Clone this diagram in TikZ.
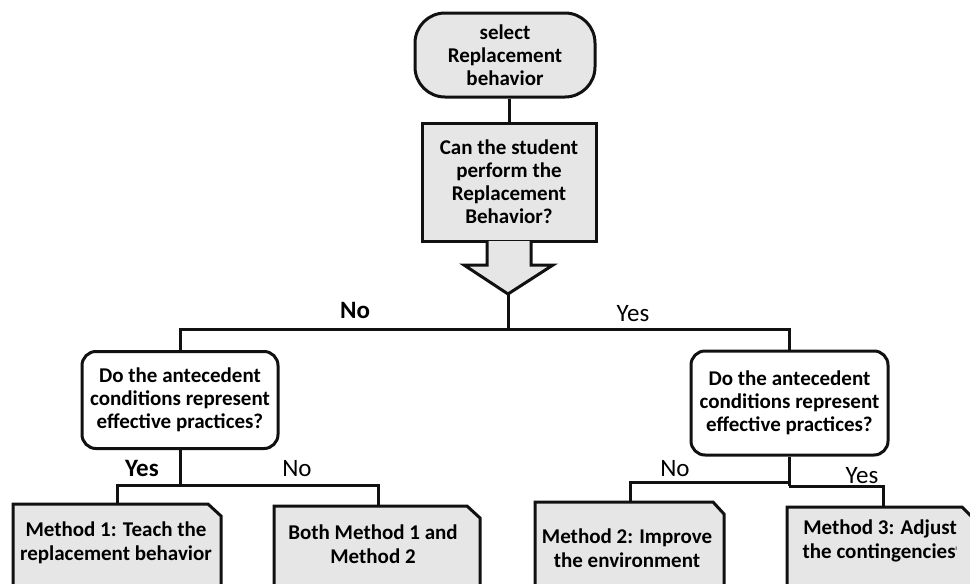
\documentclass[tikz,border=0pt]{standalone}
\usepackage{fontspec}
\setmainfont{Carlito}
\definecolor{boxgray}{HTML}{E6E6E6}
\definecolor{ink}{HTML}{111111}
\tikzset{
  base/.style={draw=ink, line width=3pt, align=center, inner sep=0pt,
    font=\fontsize{21}{23}\selectfont\bfseries},
  termbox/.style={base, fill=boxgray, rounded corners=30pt},
  qbox/.style={base, fill=boxgray},
  decbox/.style={base, fill=white, rounded corners=14pt},
  mtext/.style={align=center, inner sep=0pt, font=\fontsize{21}{23.5}\selectfont\bfseries},
  conn/.style={draw=ink, line width=3pt},
  snipbox/.style={draw=ink, line width=3pt, fill=boxgray, line join=miter},
  lblb/.style={font=\fontsize{25}{26}\selectfont\bfseries, inner sep=0pt, anchor=base},
  lblr/.style={font=\fontsize{25}{26}\selectfont, inner sep=0pt, anchor=base}
}
\begin{document}
\begin{tikzpicture}[x=1pt,y=-1pt]
\useasboundingbox[fill=white] (0,0) rectangle (970,584);

% top
\node[termbox, minimum width=180, minimum height=84] (start) at (505,55) {select\\Replacement\\behavior};
\node[qbox, minimum width=174, minimum height=118] (q) at (509,182) {Can the student\\perform the\\Replacement\\Behavior?};
\draw[conn] (start.south -| q.north) -- (q.north);

% big arrow
\draw[draw=ink, line width=3pt, fill=boxgray, line join=miter]
  (487,241) -- (487,265) -- (464,265) -- (508,294) -- (553,265) -- (531,265) -- (531,241);
\coordinate (tip) at (508,294);
\coordinate (split) at (508,329);

% decision nodes
\node[decbox, minimum width=196, minimum height=97] (dl) at (180,400) {Do the antecedent\\conditions represent\\effective practices?};
\node[decbox, minimum width=197, minimum height=104] (dr) at (789.5,403) {Do the antecedent\\conditions represent\\effective practices?};

\draw[conn] (tip) -- (split);
\draw[conn] (dl.north) -- (dl.north |- split) -- (dr.north |- split) -- (dr.north);

\node[lblb] (lno) at (355,318) {No};
\node[lblr] (lyes) at (633,321) {Yes};

% method boxes
\draw[snipbox] (13,600) -- (13,504) -- (208,504) -- (221,516) -- (221,600);
\draw[snipbox] (274,600) -- (274,506) -- (467,506) -- (480,518) -- (480,600);
\draw[snipbox] (535,600) -- (535,502) -- (713,502) -- (724,514) -- (724,600);
\draw[snipbox] (787,600) -- (787,507) -- (962,507) -- (975,520) -- (975,600);

\coordinate (m1top) at (117,504);
\coordinate (m2top) at (378,506);
\coordinate (m3top) at (630,502);
\coordinate (m4top) at (883,507);

\node[mtext] (m1) at (116,543) {Method 1: Teach the\\replacement behavior};
\node[mtext] (m2) at (373,544) {Both Method 1 and\\Method 2};
\node[mtext] (m3) at (627,548) {Method 2: Improve\\the environment};
\node[mtext] (m4) at (880,541) {Method 3: Adjust\\the contingencies\textsuperscript{\tiny l}};

% left sub-tree
\coordinate (lsplit) at (178,485);
\draw[conn] (dl.south) -- (dl.south |- lsplit);
\draw[conn] (m1top) -- (m1top |- lsplit) -- (m2top |- lsplit) -- (m2top);
\node[lblb] (lyes2) at (142,476) {Yes};
\node[lblr] (lno2) at (297,476) {No};

% right sub-tree
\coordinate (rsplitA) at (789,482);
\coordinate (rsplitB) at (789,486);
\draw[conn] (dr.south) -- (dr.south |- rsplitB);
\draw[conn] (m3top) -- (m3top |- rsplitA) -- (rsplitA);
\draw[conn] (rsplitB) -- (m4top |- rsplitB) -- (m4top);
\node[lblr] (rno) at (675,476) {No};
\node[lblr] (ryes) at (862,483) {Yes};
\end{tikzpicture}
\end{document}
